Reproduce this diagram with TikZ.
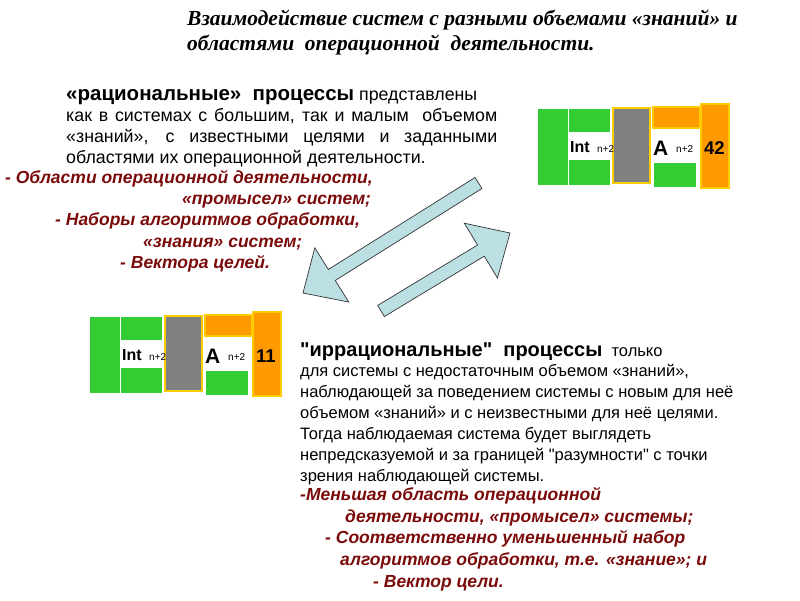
\documentclass[tikz,border=0pt]{standalone}
\usepackage{fontspec}
\setmainfont{Liberation Sans}[Ligatures=TeXOff]
\newfontfamily\titlefont{Liberation Serif}
\usetikzlibrary{calc}
\definecolor{gr}{HTML}{33CC33}
\definecolor{gy}{HTML}{808080}
\definecolor{og}{HTML}{FF9900}
\definecolor{yb}{HTML}{FFCC00}
\definecolor{ar}{HTML}{BCDFE3}
\definecolor{rd}{HTML}{7A0A0A}
\tikzset{
 grn/.style={fill=gr},
 gbox/.style={fill=gy,draw=yb,line width=2pt},
 obox/.style={fill=og,draw=yb,line width=2pt},
 body/.style={anchor=base west,inner sep=0pt,font=\fontsize{16.5}{18}\selectfont},
 topbody/.style={anchor=base west,inner sep=0pt,font=\fontsize{17.8}{18}\selectfont},
 red/.style={anchor=base west,inner sep=0pt,text=rd,font=\fontsize{17.5}{18}\selectfont\bfseries\itshape},
 barrow/.style={fill=ar,draw=black!80,line width=0.7pt,line join=miter},
}
\newcommand\blockunit[2]{%
 \begin{scope}[shift={#1}]
 \fill[grn] (538,109) rectangle (568,185);
 \fill[grn] (569,109) rectangle (610,132);
 \fill[grn] (569,160) rectangle (610,185);
 \draw[gbox] (613,108) rectangle (650,183);
 \draw[obox] (653,107) rectangle (700,128);
 \fill[grn] (654,163) rectangle (696,187);
 \draw[obox] (701,104) rectangle (729,188);
 \node[anchor=base west,inner sep=0pt,font=\fontsize{16}{18}\selectfont\bfseries] (int#2) at (570,152) {Int};
 \node[anchor=base west,inner sep=0pt,font=\fontsize{10}{12}\selectfont] (n#2) at (597,152) {n+2};
 \node[anchor=base west,inner sep=0pt,font=\fontsize{21}{22}\selectfont\bfseries] (a#2) at (653,155) {A};
 \node[anchor=base west,inner sep=0pt,font=\fontsize{10}{12}\selectfont] (m#2) at (676,152) {n+2};
 \node[anchor=base west,inner sep=0pt,font=\fontsize{18.5}{18}\selectfont\bfseries] (v#2) at (704,154) {#2};
 \end{scope}}
\newcommand\blockarrow[4]{% tail, tip, shaft half width, head half width; head length 34
 \coordinate (B) at ($#2!34pt!#1$);
 \draw[barrow] ($#1!#3!90:#2$) -- ($(B)!#3!-90:#1$) -- ($(B)!#4!-90:#1$) -- #2
   -- ($(B)!#4!90:#1$) -- ($(B)!#3!90:#1$) -- ($#1!#3!-90:#2$) -- cycle;}
\newcommand\dq{\symbol{34}}
\begin{document}
\begin{tikzpicture}[x=1pt,y=-1pt]
\useasboundingbox (0,0) rectangle (800,600);
% title
\node[anchor=base west,inner sep=0pt,font=\titlefont\fontsize{21.5}{22}\selectfont\bfseries\itshape] (t1) at (187,25) {Взаимодействие систем с разными объемами «знаний» и};
\node[anchor=base west,inner sep=0pt,font=\titlefont\fontsize{21.5}{22}\selectfont\bfseries\itshape] (t2) at (187,50) {областями\ \ операционной\ \ деятельности.};
% top paragraph
\node[topbody] (p1) at (66,100) {{\fontsize{20.5}{20}\selectfont\bfseries «рациональные»\ \ процессы} представлены};
\node[topbody] (p2) at (66,121) {\makebox[431pt][s]{как в системах с большим, так и малым\ \ объемом}};
\node[topbody] (p3) at (66,142) {\makebox[431pt][s]{«знаний», с известными целями и заданными}};
\node[topbody] (p4) at (66,163) {областями их операционной деятельности.};
\node[red] (r1) at (5,183) {- Области операционной деятельности,};
\node[red] (r2) at (182,204) {«промысел» систем;};
\node[red] (r3) at (55,225) {- Наборы алгоритмов обработки,};
\node[red] (r4) at (143,247) {«знания» систем;};
\node[red] (r5) at (120,268) {- Вектора целей.};
% blocks
\blockunit{(0,0)}{42}
\blockunit{(-448,208)}{11}
% arrows
\coordinate (aT) at (478.5,183);
\coordinate (aP) at (303,293);
\coordinate (bT) at (381,311);
\coordinate (bP) at (510,233);
\blockarrow{(aT)}{(aP)}{6.5pt}{32pt}
\blockarrow{(bT)}{(bP)}{6.5pt}{32pt}
% bottom paragraph
\node[body] (q1) at (300,356) {{\fontsize{20}{20}\selectfont\bfseries \dq иррациональные\dq\ \ процессы}\ \ только};
\node[body] (q2) at (300,376) {для системы с недостаточным объемом «знаний»,};
\node[body] (q3) at (300,397) {наблюдающей за поведением системы с новым для неё};
\node[body] (q4) at (300,418) {объемом «знаний» и с неизвестными для неё целями.};
\node[body] (q5) at (300,439) {Тогда наблюдаемая система будет выглядеть};
\node[body] (q6) at (300,460) {непредсказуемой и за границей \dq разумности\dq\ с точки};
\node[body] (q7) at (300,481) {зрения наблюдающей системы.};
\node[red] (s1) at (300,500) {-Меньшая область операционной};
\node[red] (s2) at (345,522) {деятельности, «промысел» системы;};
\node[red] (s3) at (325,543) {- Соответственно уменьшенный набор};
\node[red] (s4) at (340,565) {алгоритмов обработки, т.е. «знание»; и};
\node[red] (s5) at (373,587) {- Вектор цели.};
\end{tikzpicture}
\end{document}
